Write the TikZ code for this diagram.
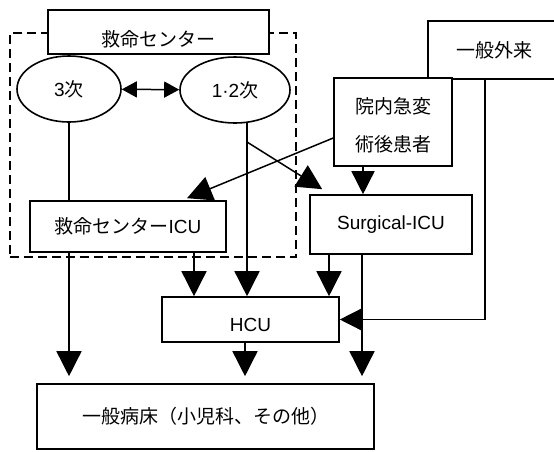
\documentclass[tikz,border=0pt]{standalone}
\usepackage{fontspec}
\setmainfont{Liberation Sans}
\newfontfamily\jp{Noto Sans CJK JP}
\usetikzlibrary{arrows.meta,shapes.geometric}
\begin{document}
\begin{tikzpicture}[x=1pt,y=-1pt,
  txt/.style={font=\fontsize{19}{23}\selectfont},
  box/.style={txt, draw, line width=1.6pt, fill=white, inner sep=0pt},
  oval/.style={txt, ellipse, draw, line width=1.6pt, fill=white, inner sep=0pt},
  conn/.style={line width=1.5pt},
  arr/.style={conn, -{Triangle[width=25pt,length=25pt]}},
  arrm/.style={conn, -{Triangle[width=23pt,length=23pt]}},
  dbl/.style={conn, {Triangle[width=16pt,length=15pt]}-{Triangle[width=16pt,length=15pt]}},
]
\useasboundingbox (0,0) rectangle (554,451);
% dashed frame
\node[draw, line width=1.5pt, dash pattern=on 9pt off 5pt, minimum width=286pt, minimum height=224pt, inner sep=0pt] (frame) at (153,145) {};
% nodes
\node[box, minimum width=221pt, minimum height=44pt, text height=28.4pt, text depth=0pt] (kc) at (158.5,32) {\jp 救命センター};
\node[oval, minimum width=104pt, minimum height=66pt] (e3) at (69,89) {3{\jp 次}};
\node[oval, minimum width=110pt, minimum height=66pt] (e12) at (235,90) {1·2{\jp 次}};
\node[box, minimum width=196pt, minimum height=51pt] (icu) at (128,226.5) {{\jp 救命センター}ICU};
\node[box, minimum width=132pt, minimum height=58pt] (op) at (494,50) {\jp 一般外来};
\node[box, minimum width=118pt, minimum height=88pt, align=center] (inn) at (393,122) {\rule{0pt}{6pt}\\[-6pt]{\jp 院内急変}\\[15pt]{\jp 術後患者}};
\node[box, minimum width=162pt, minimum height=59pt] (sicu) at (391,224.5) {Surgical-ICU};
\node[box, minimum width=177pt, minimum height=45pt, text height=23.6pt, text depth=0pt] (hcu) at (250.5,319.5) {HCU};
\node[box, minimum width=337pt, minimum height=65pt] (ward) at (205.5,416.5) {\jp 一般病床（小児科、その他）};
% connectors
\draw[dbl] (e3) -- (e12);
\draw[conn] (e3) -- (e3 |- icu.north);
\draw[arr, shorten >=7pt] (e3 |- icu.south) -- (e3 |- ward.north);
\draw[arr] (e12.-70) -- (e12.-70 |- hcu.north);
\draw[arr] (e12.-70 |- 0,142) -- ([shift={(13,-5)}]sicu.north west);
\draw[arr] ([yshift=-16pt]inn.west) -- ([shift={(59,-2)}]icu.north);
\draw[arrm] ([xshift=-30pt]inn.south) -- ([xshift=-30pt]inn.south |- sicu.north);
\draw[arrm] ([xshift=-9pt]op.south) |- (hcu.east);
\draw[arr] ([xshift=66pt]icu.south) -- ([xshift=66pt]icu.south |- hcu.north);
\draw[arr] ([xshift=-62pt]sicu.south) -- ([xshift=-62pt]sicu.south |- hcu.north);
\draw[arr, shorten >=7pt] ([xshift=-29pt]sicu.south) -- ([xshift=-29pt]sicu.south |- ward.north);
\draw[arr, shorten >=7pt] ([xshift=-5.5pt]hcu.south) -- ([xshift=-5.5pt]hcu.south |- ward.north);
\end{tikzpicture}
\end{document}
